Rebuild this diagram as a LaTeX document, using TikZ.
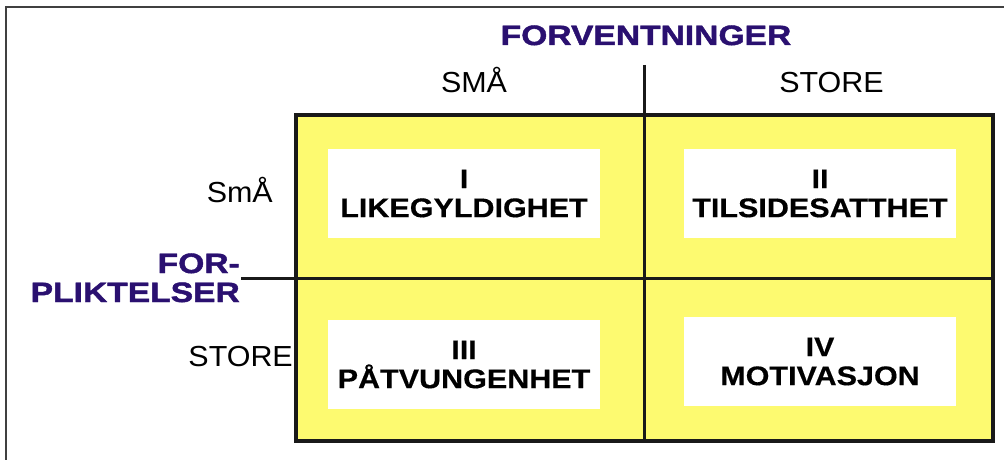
\documentclass[tikz,border=0pt]{standalone}
\usepackage{fontspec}
\setmainfont{Liberation Sans}
\newfontfamily\labelfont[FakeStretch=1.05]{Liberation Sans}
\newfontfamily\widefont[FakeStretch=1.13,FakeBold=0.4]{Liberation Sans}
\newfontfamily\headfont[FakeStretch=1.2,FakeBold=1.6]{Liberation Sans}

\definecolor{headblue}{RGB}{42,16,112}
\definecolor{cellyellow}{RGB}{253,250,112}

\tikzset{
  axislabel/.style={inner sep=0pt, font=\labelfont\fontsize{29}{31}\selectfont},
  headlabel/.style={inner sep=0pt, text=headblue, font=\headfont\bfseries\fontsize{28}{30}\selectfont},
  cellbox/.style={fill=white, inner sep=0pt, minimum width=272pt, minimum height=89pt,
    align=center, font=\widefont\bfseries\fontsize{27}{29}\selectfont},
}

\begin{document}
\begin{tikzpicture}[x=1pt, y=-1pt]
  \useasboundingbox (0,0) rectangle (1004,460);

  % outer frame
  \draw[line width=2pt, black!75] (6,460) -- (6,7) -- (1004,7);

  % the matrix
  \fill[cellyellow] (296,115) rectangle (993,441);
  \draw[line width=3.5pt, black!90] (296,115) rectangle (993,441);

  \coordinate (vtop) at (644.5,65);
  \coordinate (vbot) at (644.5,441);
  \coordinate (hleft) at (241,278);
  \coordinate (hright) at (993,278);
  \draw[line width=3pt, black!90] (vtop) -- (vbot);
  \draw[line width=3pt, black!90] (hleft) -- (hright);

  % cells
  \node[cellbox] (cellI) at (464,193.5) {I\\LIKEGYLDIGHET};
  \node[cellbox] (cellII) at (820,193.5) {II\\TILSIDESATTHET};
  \node[cellbox] (cellIII) at (464,364.5) {III\\PÅTVUNGENHET};
  \node[cellbox] (cellIV) at (820,361.5) {IV\\MOTIVASJON};

  % axis labels
  \node[headlabel, anchor=base] (forvent) at (646,45) {FORVENTNINGER};
  \node[axislabel, anchor=base] (smaatop) at (474,92.5) {SMÅ};
  \node[axislabel, anchor=base] (storetop) at (831.5,92.5) {STORE};

  \node[headlabel, anchor=base east] (forplikt) at (240,273) {FOR-};
  \node[headlabel, anchor=base east] (pliktelser) at (240,302) {PLIKTELSER};
  \node[axislabel, anchor=base east] (smaaleft) at (273,202) {SmÅ};
  \node[axislabel, anchor=base east] (storeleft) at (293,366) {STORE};
\end{tikzpicture}
\end{document}
